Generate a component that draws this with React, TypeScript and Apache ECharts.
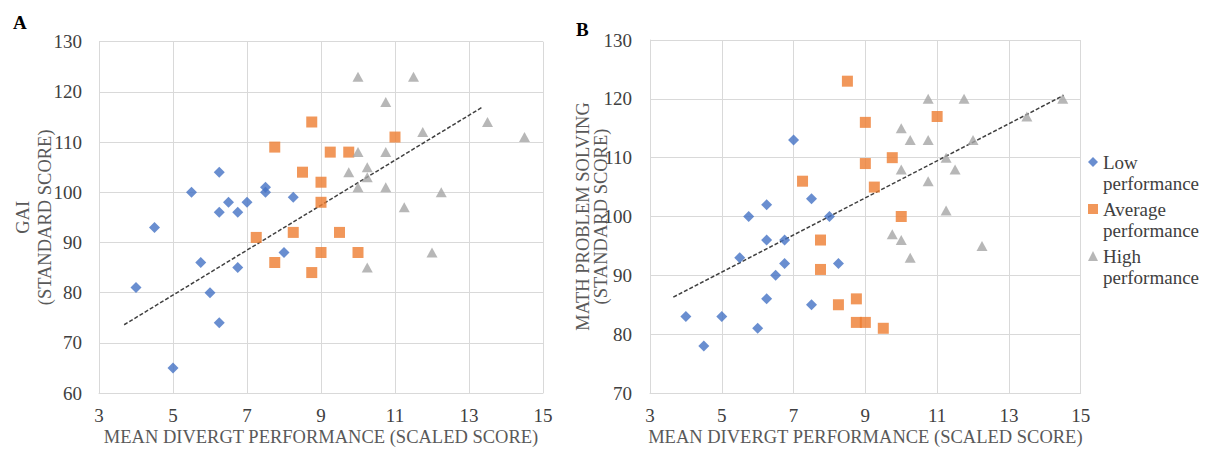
import React, { useEffect, useRef } from "react";
import * as echarts from "echarts";

// Panel A: GAI vs mean divergent performance
const lowA: [number, number][] = [
  [6.25, 104], [5.5, 100], [7.5, 101], [7.5, 100], [6.5, 98], [7, 98], [6.25, 96], [6.75, 96],
  [8.25, 99], [4.5, 93], [4, 81], [5.75, 86], [6, 80], [6.75, 85], [6.25, 74], [5, 65], [8, 88],
];
const avgA: [number, number][] = [
  [7.75, 109], [8.5, 104], [8.75, 114], [9.25, 108], [9.75, 108], [11, 111], [9, 102], [9, 98],
  [9.5, 92], [9, 88], [10, 88], [8.75, 84], [7.25, 91], [8.25, 92], [7.75, 86],
];
const highA: [number, number][] = [
  [10, 123], [11.5, 123], [10.75, 118], [13.5, 114], [14.5, 111], [11.75, 112], [10, 108],
  [10.75, 108], [9.75, 104], [10.25, 105], [10.25, 103], [10, 101], [10.75, 101], [12.25, 100],
  [11.25, 97], [12, 88], [10.25, 85],
];
const trendA: [number, number][] = [[3.68, 73.6], [13.37, 117]];

// Panel B: math problem solving vs mean divergent performance
const lowB: [number, number][] = [
  [7, 113], [7.5, 103], [6.25, 102], [5.75, 100], [8, 100], [6.25, 96], [6.75, 96], [5.5, 93],
  [6.75, 92], [6.5, 90], [8.25, 92], [6.25, 86], [7.5, 85], [4, 83], [5, 83], [6, 81], [4.5, 78],
];
const avgB: [number, number][] = [
  [8.5, 123], [7.25, 106], [9, 116], [11, 117], [9, 109], [9.75, 110], [9.25, 105], [10, 100],
  [8.75, 86], [8.75, 82], [9, 82], [9.5, 81], [7.75, 96], [7.75, 91], [8.25, 85],
];
const highB: [number, number][] = [
  [10.75, 120], [11.75, 120], [14.5, 120], [13.5, 117], [10, 115], [10.25, 113], [10.75, 113],
  [12, 113], [11.25, 110], [10, 108], [11.5, 108], [10.75, 106], [11.25, 101], [9.75, 97],
  [10, 96], [10.25, 93], [12.25, 95],
];
const trendB: [number, number][] = [[3.65, 86.3], [14.53, 120.6]];

const seriesNames = ["Low\nperformance", "Average\nperformance", "High\nperformance"];
const xTitle = "MEAN DIVERGT PERFORMANCE (SCALED SCORE)";
const yTitleA = "GAI\n(STANDARD SCORE)";
const yTitleB = "MATH PROBLEM SOLVING\n(STANDARD SCORE)";

const FONT = "'Liberation Serif', 'Times New Roman', serif";
const GRID = "#D9D9D9";
const TICK = "#404040";
const TITLE = "#595959";
const COLORS = ["#4472C4", "#ED7D31", "#A5A5A5"];

export default function App() {
  const ref = useRef<HTMLDivElement>(null);
  useEffect(() => {
    if (!ref.current) return;
    const chart = echarts.init(ref.current, null, { renderer: "svg" });

    const xAxisCommon = (gridIndex: number) => ({
      type: "value" as const,
      gridIndex,
      min: 3,
      max: 15,
      interval: 2,
      name: xTitle,
      nameLocation: "middle" as const,
      nameGap: 34,
      nameMoveOverlap: false,
      nameTextStyle: { fontFamily: FONT, fontSize: 18.5, color: TITLE },
      axisLine: { show: true, lineStyle: { color: GRID, width: 1 } },
      axisTick: { show: false },
      axisLabel: { fontFamily: FONT, fontSize: 19, color: TICK, margin: 13 },
      splitLine: { show: true, lineStyle: { color: GRID, width: 1 } },
    });
    const yAxisCommon = (gridIndex: number, min: number, name: string, gap: number, lblMargin: number, lh: number) => ({
      type: "value" as const,
      gridIndex,
      min,
      max: 130,
      interval: 10,
      name,
      nameLocation: "middle" as const,
      nameGap: gap,
      nameMoveOverlap: false,
      nameTextStyle: { fontFamily: FONT, fontSize: 18.5, color: TITLE, lineHeight: lh },
      axisLine: { show: true, lineStyle: { color: GRID, width: 1 } },
      axisTick: { show: false },
      axisLabel: { fontFamily: FONT, fontSize: 19, color: TICK, margin: lblMargin },
      splitLine: { show: true, lineStyle: { color: GRID, width: 1 } },
    });

    const scatter = (name: string, data: [number, number][], idx: number, symbol: string, size: any, color: string) => ({
      type: "scatter" as const,
      name,
      xAxisIndex: idx,
      yAxisIndex: idx,
      data,
      symbol,
      symbolSize: size,
      itemStyle: { color },
      z: 3,
    });
    const trend = (data: [number, number][], idx: number) => ({
      type: "line" as const,
      name: "trend" + idx,
      xAxisIndex: idx,
      yAxisIndex: idx,
      data,
      symbol: "none",
      lineStyle: { color: "#404040", width: 1.5, type: [4, 2] },
      z: 2,
      silent: true,
    });

    chart.setOption({
      animation: false,
      grid: [
        { left: 99, top: 41.7, width: 444, height: 355 },
        { left: 650, top: 40, width: 430.7, height: 355 },
      ],
      xAxis: [xAxisCommon(0), xAxisCommon(1)],
      yAxis: [yAxisCommon(0, 60, yTitleA, 43.5, 17, 21.5), yAxisCommon(1, 70, yTitleB, 40, 18, 18)],
      legend: {
        orient: "vertical",
        left: 1088,
        top: 130.5,
        padding: 0,
        itemGap: -16,
        itemWidth: 10,
        itemHeight: 10,
        data: seriesNames,
        // a blank first line keeps the marker level with the first text line
        formatter: (name: string) => " \n" + name,
        textStyle: { fontFamily: FONT, fontSize: 19, color: TICK, lineHeight: 21 },
      },
      graphic: [
        { type: "text", left: 13, top: 13, style: { text: "A", font: `bold 19px ${FONT}`, fill: "#000" } },
        { type: "text", left: 576, top: 20, style: { text: "B", font: `bold 19px ${FONT}`, fill: "#000" } },
      ],
      series: [
        scatter(seriesNames[0], lowA, 0, "diamond", 11, COLORS[0]),
        scatter(seriesNames[1], avgA, 0, "rect", 11, COLORS[1]),
        scatter(seriesNames[2], highA, 0, "triangle", [11, 10], COLORS[2]),
        trend(trendA, 0),
        scatter(seriesNames[0], lowB, 1, "diamond", 11, COLORS[0]),
        scatter(seriesNames[1], avgB, 1, "rect", 11, COLORS[1]),
        scatter(seriesNames[2], highB, 1, "triangle", [11, 10], COLORS[2]),
        trend(trendB, 1),
      ],
    });
    return () => chart.dispose();
  }, []);
  return (
    <div
      ref={ref}
      style={{ position: "absolute", left: 0, top: 0, width: 1208, height: 451, background: "#fff" }}
    />
  );
}
